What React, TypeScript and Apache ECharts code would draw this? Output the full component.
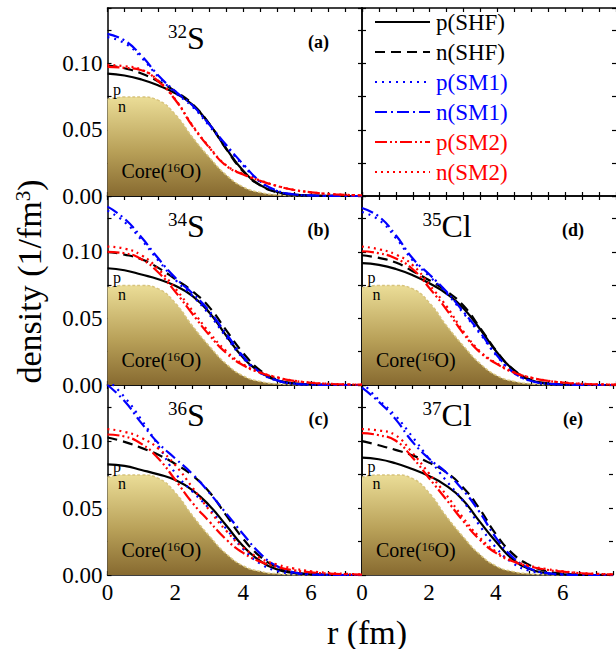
import React, { useEffect, useRef } from 'react';
import * as echarts from 'echarts';

// radial grid (fm)
const R = [0, 0.5, 1, 1.5, 2, 2.5, 3, 3.5, 4, 4.5, 5, 5.5, 6, 6.5, 7, 7.5];

// 16O core density
const coreO16 = [0.073, 0.0748, 0.0748, 0.0722, 0.0615, 0.0445, 0.0292, 0.0158, 0.0068, 0.0026, 0.0009, 0.0002, 0, 0, 0, 0];

// 32S
const s32_pSHF = [0.0925, 0.091, 0.088, 0.0835, 0.0775, 0.069, 0.0545, 0.0358, 0.019, 0.0082, 0.003, 0.001, 0.0003, 0.0001, 0, 0];
const s32_nSHF = [0.0985, 0.0965, 0.0925, 0.0865, 0.079, 0.0695, 0.0545, 0.0355, 0.0185, 0.008, 0.0028, 0.0009, 0.0003, 0.0001, 0, 0];
const s32_pSM1 = [0.12, 0.1155, 0.1045, 0.09, 0.078, 0.0675, 0.053, 0.0375, 0.023, 0.0105, 0.0038, 0.0012, 0.0004, 0.0001, 0, 0];
const s32_nSM1 = [0.1225, 0.1175, 0.106, 0.091, 0.079, 0.0685, 0.054, 0.0385, 0.024, 0.011, 0.004, 0.0012, 0.0004, 0.0001, 0, 0];
const s32_pSM2 = [0.0975, 0.0968, 0.095, 0.0865, 0.0725, 0.053, 0.0365, 0.0228, 0.0162, 0.0115, 0.0075, 0.0045, 0.0028, 0.0016, 0.0009, 0.0005];
const s32_nSM2 = [0.099, 0.098, 0.0955, 0.087, 0.073, 0.0535, 0.037, 0.0232, 0.0165, 0.0117, 0.0076, 0.0046, 0.0028, 0.0016, 0.0009, 0.0005];

// 34S
const s34_pSHF = [0.0877, 0.0862, 0.083, 0.0795, 0.0745, 0.067, 0.0545, 0.037, 0.0205, 0.0098, 0.0035, 0.0012, 0.0004, 0.0001, 0, 0];
const s34_nSHF = [0.1, 0.098, 0.0945, 0.088, 0.0795, 0.0705, 0.0585, 0.041, 0.024, 0.011, 0.004, 0.0012, 0.0004, 0.0001, 0, 0];
const s34_pSM1 = [0.131, 0.1225, 0.109, 0.0935, 0.079, 0.067, 0.053, 0.036, 0.02, 0.009, 0.0033, 0.001, 0.0003, 0.0001, 0, 0];
const s34_nSM1 = [0.134, 0.125, 0.111, 0.095, 0.0805, 0.069, 0.0555, 0.0385, 0.0215, 0.0095, 0.0035, 0.001, 0.0003, 0.0001, 0, 0];
const s34_pSM2 = [0.1, 0.099, 0.0945, 0.0845, 0.07, 0.0535, 0.0375, 0.024, 0.0148, 0.0092, 0.0056, 0.0031, 0.0017, 0.0009, 0.0005, 0.0003];
const s34_nSM2 = [0.104, 0.1025, 0.0975, 0.087, 0.0725, 0.056, 0.0395, 0.0255, 0.0155, 0.0095, 0.0058, 0.0032, 0.0018, 0.001, 0.0005, 0.0003];

// 36S
const s36_pSHF = [0.0827, 0.0815, 0.0785, 0.0752, 0.071, 0.0635, 0.052, 0.037, 0.0215, 0.0105, 0.0042, 0.0015, 0.0005, 0.0002, 0, 0];
const s36_nSHF = [0.1028, 0.0995, 0.095, 0.0898, 0.083, 0.0745, 0.062, 0.0445, 0.027, 0.0138, 0.0058, 0.002, 0.0007, 0.0002, 0.0001, 0];
const s36_pSM1 = [0.146, 0.133, 0.116, 0.0965, 0.076, 0.0625, 0.0495, 0.0345, 0.0195, 0.0085, 0.003, 0.001, 0.0003, 0.0001, 0, 0];
const s36_nSM1 = [0.142, 0.13, 0.1135, 0.0985, 0.087, 0.0755, 0.0615, 0.046, 0.0305, 0.016, 0.0065, 0.002, 0.0006, 0.0002, 0, 0];
const s36_pSM2 = [0.105, 0.1035, 0.098, 0.087, 0.071, 0.054, 0.04, 0.0265, 0.0165, 0.01, 0.006, 0.0035, 0.002, 0.0011, 0.0006, 0.0003];
const s36_nSM2 = [0.109, 0.107, 0.1025, 0.0945, 0.082, 0.0655, 0.0485, 0.033, 0.0205, 0.0125, 0.0078, 0.0048, 0.0028, 0.0016, 0.0009, 0.0005];

// 35Cl
const cl35_pSHF = [0.0915, 0.0902, 0.0872, 0.0825, 0.0762, 0.0685, 0.0575, 0.0415, 0.024, 0.0108, 0.0035, 0.0011, 0.0003, 0.0001, 0, 0];
const cl35_nSHF = [0.0975, 0.0955, 0.092, 0.0855, 0.0785, 0.0705, 0.0595, 0.0425, 0.0245, 0.011, 0.0038, 0.0012, 0.0004, 0.0001, 0, 0];
const cl35_pSM1 = [0.13, 0.124, 0.1105, 0.0935, 0.0815, 0.0688, 0.0538, 0.038, 0.0212, 0.0088, 0.0029, 0.0009, 0.0003, 0.0001, 0, 0];
const cl35_nSM1 = [0.133, 0.1265, 0.1125, 0.095, 0.0828, 0.07, 0.0548, 0.039, 0.0218, 0.009, 0.003, 0.0009, 0.0003, 0.0001, 0, 0];
const cl35_pSM2 = [0.1005, 0.099, 0.095, 0.087, 0.0725, 0.0565, 0.0385, 0.0242, 0.0155, 0.0092, 0.0054, 0.0031, 0.0017, 0.0009, 0.0005, 0.0003];
const cl35_nSM2 = [0.104, 0.102, 0.098, 0.09, 0.075, 0.059, 0.04, 0.025, 0.016, 0.0095, 0.0055, 0.0032, 0.0018, 0.001, 0.0005, 0.0003];

// 37Cl
const cl37_pSHF = [0.0877, 0.0865, 0.0835, 0.0792, 0.074, 0.067, 0.0565, 0.0405, 0.025, 0.0118, 0.0045, 0.0015, 0.0005, 0.0001, 0, 0];
const cl37_nSHF = [0.1, 0.097, 0.0935, 0.0895, 0.084, 0.077, 0.066, 0.05, 0.0305, 0.016, 0.0075, 0.003, 0.001, 0.0003, 0.0001, 0];
const cl37_pSM1 = [0.144, 0.131, 0.119, 0.1035, 0.087, 0.071, 0.056, 0.0375, 0.0205, 0.009, 0.0032, 0.001, 0.0003, 0.0001, 0, 0];
const cl37_nSM1 = [0.14, 0.1295, 0.1165, 0.0998, 0.087, 0.077, 0.064, 0.0475, 0.028, 0.0135, 0.005, 0.0016, 0.0005, 0.0001, 0, 0];
const cl37_pSM2 = [0.106, 0.1045, 0.1005, 0.088, 0.0725, 0.057, 0.041, 0.0268, 0.0165, 0.0102, 0.0065, 0.004, 0.0025, 0.0014, 0.0008, 0.0004];
const cl37_nSM2 = [0.109, 0.108, 0.1045, 0.0915, 0.076, 0.0605, 0.0435, 0.0285, 0.0175, 0.0108, 0.007, 0.0045, 0.0028, 0.0016, 0.0009, 0.0005];

const SERIES_NAMES = ['p(SHF)', 'n(SHF)', 'p(SM1)', 'n(SM1)', 'p(SM2)', 'n(SM2)'];
const SERIES_COLORS = ['#000000', '#000000', '#0000ff', '#0000ff', '#ff0000', '#ff0000'];
const SERIES_DASH: any[] = ['solid', [10, 6], [2, 5], [12, 4, 2, 4], [12, 3, 2, 3, 2, 3], [2, 4]];

const X_TICK_LABELS = [0, 2, 4, 6];
const Y_TICK_LABELS = [0, 0.05, 0.1];

const PANELS = [
  { grid: 0, mass: '32', elem: 'S', tag: '(a)', data: [s32_pSHF, s32_nSHF, s32_pSM1, s32_nSM1, s32_pSM2, s32_nSM2] },
  { grid: 2, mass: '34', elem: 'S', tag: '(b)', data: [s34_pSHF, s34_nSHF, s34_pSM1, s34_nSM1, s34_pSM2, s34_nSM2] },
  { grid: 4, mass: '36', elem: 'S', tag: '(c)', data: [s36_pSHF, s36_nSHF, s36_pSM1, s36_nSM1, s36_pSM2, s36_nSM2] },
  { grid: 3, mass: '35', elem: 'Cl', tag: '(d)', data: [cl35_pSHF, cl35_nSHF, cl35_pSM1, cl35_nSM1, cl35_pSM2, cl35_nSM2] },
  { grid: 5, mass: '37', elem: 'Cl', tag: '(e)', data: [cl37_pSHF, cl37_nSHF, cl37_pSM1, cl37_nSM1, cl37_pSM2, cl37_nSM2] },
];

const FONT = '"Liberation Serif", "Times New Roman", Times, serif';

const GRIDS = [
  { left: 107.5, top: 8, width: 254.5, height: 188 },
  { left: 362, top: 8, width: 255, height: 188 },
  { left: 107.5, top: 196, width: 254.5, height: 189 },
  { left: 362, top: 196, width: 255, height: 189 },
  { left: 107.5, top: 385, width: 254.5, height: 190 },
  { left: 362, top: 385, width: 255, height: 190 },
];

function near(v: number, list: number[]) {
  return list.some((t) => Math.abs(v - t) < 1e-6);
}

function buildOption() {
  const xAxis: any[] = [];
  const yAxis: any[] = [];
  const tickStyle = { inside: true, length: 4, lineStyle: { color: '#000', width: 1.2 } };
  const lineStyle = { show: true, onZero: false, lineStyle: { color: '#000', width: 1.5 } };
  GRIDS.forEach((g, i) => {
    const bottomRow = i >= 4;
    const leftCol = i % 2 === 0;
    xAxis.push({
      type: 'value', gridIndex: i, position: 'bottom', min: 0, max: 7.5, interval: 0.5,
      axisLine: lineStyle, axisTick: tickStyle, splitLine: { show: false },
      axisLabel: {
        show: bottomRow, margin: 6, color: '#000', fontSize: 23, fontFamily: FONT,
        formatter: (v: number) => (near(v, X_TICK_LABELS) ? String(v) : ''),
      },
    });
    xAxis.push({
      type: 'value', gridIndex: i, position: 'top', min: 0, max: 7.5, interval: 0.5,
      axisLine: lineStyle, axisTick: tickStyle, splitLine: { show: false }, axisLabel: { show: false },
    });
    yAxis.push({
      type: 'value', gridIndex: i, position: 'left', min: 0, max: 0.142, interval: 0.025,
      axisLine: lineStyle, axisTick: tickStyle, splitLine: { show: false },
      axisLabel: {
        show: leftCol, margin: 5, color: '#000', fontSize: 23, fontFamily: FONT,
        formatter: (v: number) => (near(v, Y_TICK_LABELS) ? v.toFixed(2) : ''),
      },
    });
    yAxis.push({
      type: 'value', gridIndex: i, position: 'right', min: 0, max: 0.142, interval: 0.025,
      axisLine: leftCol ? lineStyle : { show: false, onZero: false },
      axisTick: tickStyle, splitLine: { show: false }, axisLabel: { show: false },
    });
  });

  const series: any[] = [];
  const graphic: any[] = [];
  PANELS.forEach((p) => {
    const g = GRIDS[p.grid];
    series.push({
      type: 'line', name: 'Core', xAxisIndex: p.grid * 2, yAxisIndex: p.grid * 2,
      data: R.map((r, k) => [r, coreO16[k]]), symbol: 'none', smooth: 0.5,
      lineStyle: { color: '#d8c47c', width: 1.5, type: [3, 2] },
      areaStyle: {
        opacity: 1,
        color: new echarts.graphic.LinearGradient(0, 0, 0, 1, [
          { offset: 0, color: '#ebdd97' },
          { offset: 0.55, color: '#b8a058' },
          { offset: 1, color: '#876a30' },
        ]),
      },
      z: 1,
    });
    p.data.forEach((arr, s) => {
      series.push({
        type: 'line', name: SERIES_NAMES[s], xAxisIndex: p.grid * 2, yAxisIndex: p.grid * 2,
        data: R.map((r, k) => [r, arr[k]]), symbol: 'none', smooth: 0.5,
        lineStyle: { color: SERIES_COLORS[s], width: 2.2, type: SERIES_DASH[s] },
        z: 3 + s,
      });
    });
    // nucleus title
    graphic.push({
      type: 'text', x: g.left + 60.5, y: g.top + 30, z: 100,
      style: {
        text: `{s|${p.mass}}{m|${p.elem}}`, fill: '#000',
        align: 'left', verticalAlign: 'middle', textAlign: 'left', textVerticalAlign: 'middle',
        rich: {
          s: { fontSize: 19, fontFamily: FONT, verticalAlign: 'top', lineHeight: 32, fill: '#000' },
          m: { fontSize: 32, fontFamily: FONT, lineHeight: 32, fill: '#000' },
        },
      },
    });
    graphic.push({
      type: 'text', x: g.left + 211, y: g.top + 34, z: 100,
      style: {
        text: p.tag, fill: '#000', fontSize: 18, fontWeight: 'bold', fontFamily: FONT,
        align: 'center', verticalAlign: 'middle', textAlign: 'center', textVerticalAlign: 'middle',
      },
    });
    graphic.push({
      type: 'text', x: g.left + 14, y: g.top + g.height - 25, z: 100,
      style: {
        text: '{a|Core(}{s|16}{a|O)}', fill: '#000',
        align: 'left', verticalAlign: 'middle', textAlign: 'left', textVerticalAlign: 'middle',
        rich: {
          a: { fontSize: 20, fontFamily: FONT, lineHeight: 20, fill: '#000' },
          s: { fontSize: 13, fontFamily: FONT, verticalAlign: 'top', lineHeight: 20, fill: '#000' },
        },
      },
    });
    graphic.push({
      type: 'text', x: g.left + 5.5, y: g.top + 81, z: 100,
      style: { text: 'p', fill: '#000', fontSize: 16, fontFamily: FONT, align: 'left', verticalAlign: 'middle', textAlign: 'left', textVerticalAlign: 'middle' },
    });
    graphic.push({
      type: 'text', x: g.left + 10.5, y: g.top + 98, z: 100,
      style: { text: 'n', fill: '#000', fontSize: 16, fontFamily: FONT, align: 'left', verticalAlign: 'middle', textAlign: 'left', textVerticalAlign: 'middle' },
    });
  });

  // legend (drawn manually)
  SERIES_NAMES.forEach((name, s) => {
    const y = 22 + s * 30;
    const dash = SERIES_DASH[s];
    graphic.push({
      type: 'line', z: 100,
      shape: { x1: 375, y1: y, x2: 430, y2: y },
      style: { stroke: SERIES_COLORS[s], lineWidth: 2.2, lineDash: dash === 'solid' ? null : dash },
    });
    graphic.push({
      type: 'text', x: 436, y: y, z: 100,
      style: {
        text: name, fill: SERIES_COLORS[s], fontSize: 23, fontFamily: FONT,
        align: 'left', verticalAlign: 'middle', textAlign: 'left', textVerticalAlign: 'middle',
      },
    });
  });

  // axis titles
  graphic.push({
    type: 'text', x: 29, y: 281.5, rotation: Math.PI / 2, z: 100,
    style: {
      text: '{a|density (1/fm}{s|3}{a|)}', fill: '#000',
      align: 'center', verticalAlign: 'middle', textAlign: 'center', textVerticalAlign: 'middle',
      rich: {
        a: { fontSize: 34, fontFamily: FONT, lineHeight: 34, fill: '#000' },
        s: { fontSize: 21, fontFamily: FONT, verticalAlign: 'top', lineHeight: 34, fill: '#000' },
      },
    },
  });
  graphic.push({
    type: 'text', x: 367, y: 632, z: 100,
    style: {
      text: 'r (fm)', fill: '#000', fontSize: 34, fontFamily: FONT,
      align: 'center', verticalAlign: 'middle', textAlign: 'center', textVerticalAlign: 'middle',
    },
  });

  return {
    animation: false,
    backgroundColor: '#ffffff',
    grid: GRIDS.map((g) => ({ ...g, containLabel: false })),
    xAxis,
    yAxis,
    series,
    graphic,
  };
}

export default function App() {
  const ref = useRef<HTMLDivElement>(null);
  useEffect(() => {
    if (!ref.current) return;
    const chart = echarts.init(ref.current, undefined, { renderer: 'svg' });
    chart.setOption(buildOption() as any);
    return () => chart.dispose();
  }, []);
  return (
    <div
      ref={ref}
      style={{ position: 'absolute', left: 0, top: 0, width: 616, height: 649, background: '#fff' }}
    />
  );
}
